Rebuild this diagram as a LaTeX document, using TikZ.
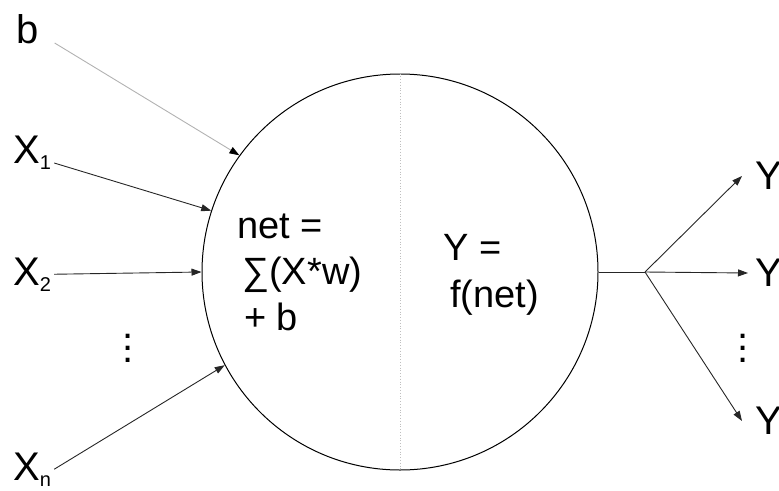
\documentclass[tikz,border=0pt]{standalone}
\usepackage{fontspec}
\setmainfont{Liberation Sans}
\usetikzlibrary{arrows.meta,positioning}

\newcommand{\sub}[1]{\raisebox{-6pt}{\fontsize{20}{20}\selectfont #1}}

\begin{document}
\begin{tikzpicture}[x=1pt, y=-1pt, font=\fontsize{40}{46}\selectfont,
    lbl/.style={anchor=base west, inner xsep=3pt, inner ysep=2pt},
    ylbl/.style={anchor=west, inner ysep=0pt},
    vdots/.style={align=center, inner sep=0pt, font=\fontsize{40}{12}\selectfont},
    wire/.style={draw=black!85, line width=0.9pt},
    arr/.style={wire, -{Triangle[length=10pt,width=7pt]}}]
  \useasboundingbox (0,0) rectangle (779,490);

  % neuron body
  \node[circle, draw, line width=1pt, minimum size=396pt, inner sep=0pt] (neuron) at (400,272) {};
  \draw[gray!50, dotted, line width=0.8pt] (neuron.north) -- (neuron.south);
  \node[anchor=base west, align=left, inner sep=0pt, font=\fontsize{38}{46}\selectfont] (net) at (237,330)
    {net =\\ \hspace{5pt}∑(X*w)\\ \hspace{7pt}+ b};
  \node[anchor=base west, align=left, inner sep=0pt, font=\fontsize{38}{47}\selectfont] (act) at (443,307)
    {Y =\\ \hspace{7pt}f(net)};

  % inputs
  \node[lbl, inner xsep=16pt, inner ysep=0pt] (b) at (0,43) {b};
  \node[lbl] (x1) at (10,163) {X\sub{1}};
  \node[lbl] (x2) at (10,285) {X\sub{2}};
  \node[vdots] (xdots) at (128,348) {.\\.\\.};
  \node[lbl] (xn) at (10,480) {X\sub{n}};

  \draw[arr, draw=gray!60, -{Triangle[length=10pt,width=7pt,black]}] (b.base east) -- (neuron.144.7);
  \draw[arr] (x1.base east) -- (neuron.162);
  \draw[arr] (x2.east) -- (neuron.west);
  \draw[arr] (xn.east) -- (neuron.208);

  % outputs
  \coordinate (split) at (645,272);
  \node[ylbl, inner xsep=13pt] (y1) at (742,176) {Y};
  \node[ylbl, inner xsep=7pt] (y2) at (748,273) {Y};
  \node[vdots] (ydots) at (743,348) {.\\.\\.};
  \node[ylbl, inner xsep=13pt] (yn) at (742,421) {Y};

  \draw[wire] (neuron.east) -- (split);
  \draw[arr] (split) -- (y1.west);
  \draw[arr] (split) -- (y2.west);
  \draw[arr] (split) -- (yn.west);
\end{tikzpicture}
\end{document}
